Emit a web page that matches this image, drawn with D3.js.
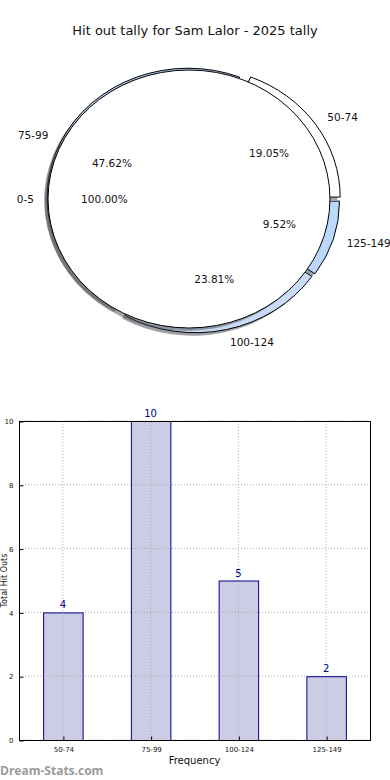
<!DOCTYPE html>
<html>
<head>
<meta charset="utf-8">
<script src="https://cdn.jsdelivr.net/npm/d3@7/dist/d3.min.js"></script>
<style>
  html, body { margin: 0; padding: 0; background: #fff; }
  svg { display: block; font-family: "DejaVu Sans", sans-serif; }
</style>
</head>
<body>
<svg id="chart" width="390" height="780"></svg>
<script>
// ---- data ----
const title = "Hit out tally for Sam Lalor - 2025 tally";
const categories = ["50-74", "75-99", "100-124", "125-149"];
const values = [4, 10, 5, 2];
const pieColors = ["#ffffff", "#b0c8f0", "#c8dcf8", "#bcd8fc"];
const explode = [0.04, 0.05, 0.03, 0.03];
const totalLabel = "0-5";
const totalValue = [1];
const yTicks = [0, 2, 4, 6, 8, 10];
const xLabel = "Frequency";
const yLabel = "Total Hit Outs";
const watermark = "Dream-Stats.com";

const svg = d3.select("#chart");

// ---- title ----
svg.append("text").attr("x", 195).attr("y", 35).attr("text-anchor", "middle")
  .attr("font-size", 13).attr("fill", "#111").text(title);

// ---- pie (elliptical, matplotlib style) ----
const ringCx = 194.5, ringCy = 200, circCx = 189, circCy = 199;
const RX = 141, RY = 129;
const total = d3.sum(values);
const pie = d3.pie().sort(null).startAngle(Math.PI / 2).endAngle(Math.PI / 2 - 2 * Math.PI);
const arcs = pie(values);
const unit = d3.arc().innerRadius(0).outerRadius(1);
const shadowOff = [-3, 3];

function shade(c) {
  const r = d3.rgb(c);
  return d3.rgb(r.r * 0.3, r.g * 0.3, r.b * 0.3).toString();
}
function mathAng(a) { return Math.PI / 2 - a; }

const pieG = svg.append("g");
arcs.forEach((a, i) => {
  const mid = mathAng((a.startAngle + a.endAngle) / 2);
  const dx = RX * explode[i] * Math.cos(mid);
  const dy = -RY * explode[i] * Math.sin(mid);
  pieG.append("path")
    .attr("d", unit(a))
    .attr("transform", `translate(${ringCx + dx + shadowOff[0]},${ringCy + dy + shadowOff[1]}) scale(${RX},${RY})`)
    .attr("fill", shade(pieColors[i])).attr("fill-opacity", 0.5);
  pieG.append("path")
    .attr("d", unit(a))
    .attr("transform", `translate(${ringCx + dx},${ringCy + dy}) scale(${RX},${RY})`)
    .attr("fill", pieColors[i]).attr("stroke", "#000").attr("stroke-width", 1)
    .attr("vector-effect", "non-scaling-stroke");
});
const fullArc = pie(totalValue)[0];
pieG.append("path").attr("d", unit(fullArc))
  .attr("transform", `translate(${circCx + shadowOff[0]},${circCy + shadowOff[1]}) scale(${RX},${RY})`)
  .attr("fill", shade("#ffffff")).attr("fill-opacity", 0.5);
pieG.append("path").attr("d", unit(fullArc))
  .attr("transform", `translate(${circCx},${circCy}) scale(${RX},${RY})`)
  .attr("fill", "#ffffff").attr("stroke", "#000").attr("stroke-width", 1)
  .attr("vector-effect", "non-scaling-stroke");

// labels
const fmt = v => (v * 100).toFixed(2) + "%";
const FS = 10.5;
arcs.forEach((a, i) => {
  const mid = mathAng((a.startAngle + a.endAngle) / 2);
  const c = Math.cos(mid), s = Math.sin(mid);
  const lr = 1.1 + explode[i], pr = 0.6 + explode[i];
  pieG.append("text")
    .attr("x", ringCx + RX * lr * c).attr("y", ringCy - RY * lr * s)
    .attr("dy", "0.35em").attr("text-anchor", c > 0 ? "start" : "end")
    .attr("font-size", FS).attr("fill", "#111").text(categories[i]);
  pieG.append("text")
    .attr("x", ringCx + RX * pr * c).attr("y", ringCy - RY * pr * s)
    .attr("dy", "0.35em").attr("text-anchor", "middle")
    .attr("font-size", FS).attr("fill", "#111").text(fmt(a.value / total));
});
{
  const mid = mathAng((fullArc.startAngle + fullArc.endAngle) / 2);
  const c = Math.cos(mid), s = Math.sin(mid);
  pieG.append("text").attr("x", circCx + RX * 1.1 * c).attr("y", circCy - RY * 1.1 * s)
    .attr("dy", "0.35em").attr("text-anchor", c > 0 ? "start" : "end")
    .attr("font-size", FS).attr("fill", "#111").text(totalLabel);
  pieG.append("text").attr("x", circCx + RX * 0.6 * c).attr("y", circCy - RY * 0.6 * s)
    .attr("dy", "0.35em").attr("text-anchor", "middle")
    .attr("font-size", FS).attr("fill", "#111").text(fmt(1));
}

// ---- bar chart ----
const L = 19, R = 370, T = 421, B = 740;
const x = d3.scaleBand().domain(categories).range([L, R]).paddingInner(0.55).paddingOuter(0.275);
const xc = d3.scalePoint().domain(categories).range([L, R]).padding(0.5);
const y = d3.scaleLinear().domain([0, 10]).range([B, T]);
const bg = svg.append("g");

bg.selectAll("line.hg").data(yTicks).join("line")
  .attr("x1", L).attr("x2", R).attr("y1", d => y(d)).attr("y2", d => y(d))
  .attr("stroke", "#b0b0b0").attr("stroke-width", 1).attr("stroke-dasharray", "1,2");
bg.selectAll("line.vg").data(categories).join("line")
  .attr("x1", d => xc(d)).attr("x2", d => xc(d)).attr("y1", T).attr("y2", B)
  .attr("stroke", "#b0b0b0").attr("stroke-width", 1).attr("stroke-dasharray", "1,2");

bg.selectAll("rect.bar").data(values).join("rect")
  .attr("x", (d, i) => x(categories[i]) + 0.5)
  .attr("y", d => y(d) + 0.5)
  .attr("width", x.bandwidth())
  .attr("height", d => B - y(d))
  .attr("fill", "#ccccE4").attr("stroke", "#00008b").attr("stroke-width", 1);
bg.selectAll("line.vg2").data(values).join("line")
  .attr("x1", (d, i) => xc(categories[i])).attr("x2", (d, i) => xc(categories[i]))
  .attr("y1", d => y(d) + 1).attr("y2", B)
  .attr("stroke", "#a8a8b8").attr("stroke-width", 1).attr("stroke-dasharray", "1,2");
yTicks.forEach(t => {
  values.forEach((v, i) => {
    if (t > 0 && t < v) {
      bg.append("line")
        .attr("x1", x(categories[i]) + 1).attr("x2", x(categories[i]) + x.bandwidth())
        .attr("y1", y(t)).attr("y2", y(t))
        .attr("stroke", "#a8a8b8").attr("stroke-dasharray", "1,2");
    }
  });
});

bg.selectAll("text.val").data(values).join("text")
  .attr("x", (d, i) => xc(categories[i])).attr("y", d => y(d) - 4)
  .attr("text-anchor", "middle").attr("font-size", 10).attr("fill", "#00008b")
  .text(d => d);

bg.append("rect").attr("x", L + 0.5).attr("y", T + 0.5).attr("width", R - L).attr("height", B - T)
  .attr("fill", "none").attr("stroke", "#000").attr("stroke-width", 1);

const yAxis = d3.axisLeft(y).tickValues(yTicks).tickSize(-4).tickPadding(6);
const yg = bg.append("g").attr("transform", `translate(${L + 0.5},0.5)`).call(yAxis);
yg.select(".domain").remove();
yg.selectAll("text").attr("font-size", 7).attr("font-family", "DejaVu Sans").attr("fill", "#111");
const xAxis = d3.axisBottom(xc).tickSize(-4).tickPadding(7);
const xg = bg.append("g").attr("transform", `translate(0.5,${B + 0.5})`).call(xAxis);
xg.select(".domain").remove();
xg.selectAll("text").attr("font-size", 7).attr("font-family", "DejaVu Sans").attr("fill", "#111");

bg.append("text").attr("x", (L + R) / 2).attr("y", 764).attr("text-anchor", "middle")
  .attr("font-size", 10).attr("fill", "#111").text(xLabel);
bg.append("text").attr("transform", `translate(7,${(T + B) / 2}) rotate(-90)`)
  .attr("text-anchor", "middle").attr("font-size", 8).attr("fill", "#111").text(yLabel);

svg.append("text").attr("x", 0).attr("y", 775).attr("font-size", 12).attr("font-weight", "bold")
  .attr("fill", "#9a9a9a").attr("font-family", "\"Open Sans\", \"DejaVu Sans\", sans-serif").text(watermark);
</script>
</body>
</html>
